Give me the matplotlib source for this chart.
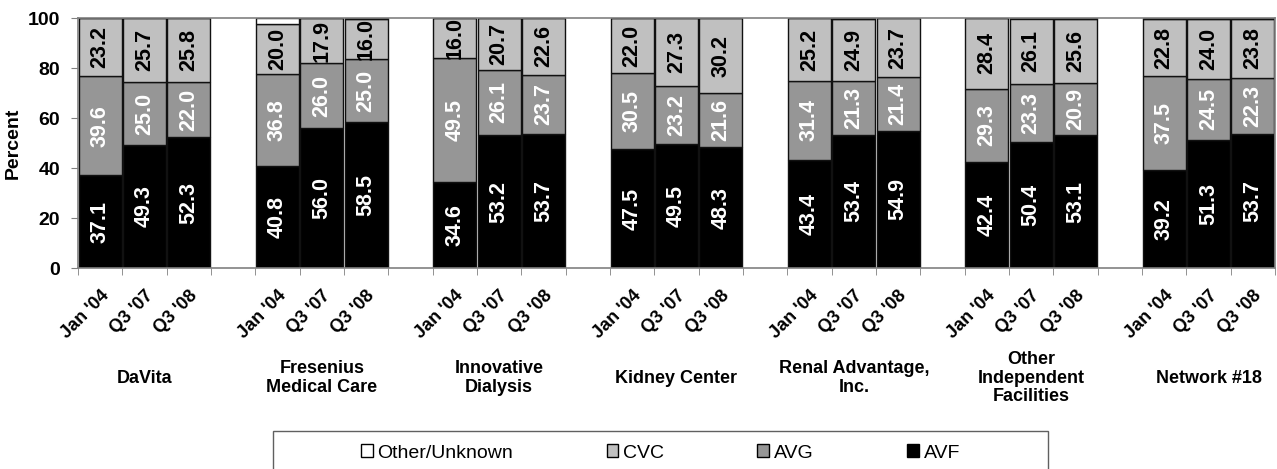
import numpy as np
import matplotlib.pyplot as plt
import matplotlib.patches as mpatches

plt.rcParams["font.family"] = ["Liberation Sans", "DejaVu Sans"]

groups = ["DaVita", "Fresenius\nMedical Care", "Innovative\nDialysis", "Kidney Center",
          "Renal Advantage,\nInc.", "Other\nIndependent\nFacilities", "Network #18"]
periods = ["Jan '04", "Q3 '07", "Q3 '08"]

# values per group, per period (Jan '04, Q3 '07, Q3 '08)
avf = [37.1, 49.3, 52.3,  40.8, 56.0, 58.5,  34.6, 53.2, 53.7,  47.5, 49.5, 48.3,
       43.4, 53.4, 54.9,  42.4, 50.4, 53.1,  39.2, 51.3, 53.7]
avg = [39.6, 25.0, 22.0,  36.8, 26.0, 25.0,  49.5, 26.1, 23.7,  30.5, 23.2, 21.6,
       31.4, 21.3, 21.4,  29.3, 23.3, 20.9,  37.5, 24.5, 22.3]
cvc = [23.2, 25.7, 25.8,  20.0, 17.9, 16.0,  16.0, 20.7, 22.6,  22.0, 27.3, 30.2,
       25.2, 24.9, 23.7,  28.4, 26.1, 25.6,  22.8, 24.0, 23.8]
other = [0.1, 0.0, 0.0,  2.4, 0.1, 0.5,  0.0, 0.0, 0.0,  0.0, 0.0, 0.0,
         0.0, 0.4, 0.0,  0.0, 0.2, 0.4,  0.5, 0.2, 0.2]

c_avf, c_avg, c_cvc, c_oth = "#000000", "#969696", "#c0c0c0", "#ffffff"
edge = "#111111"

fig = plt.figure(figsize=(12.77, 4.69), dpi=100)
ax = fig.add_axes([78 / 1277, 201 / 469, 1197 / 1277, 250 / 469])

x = np.array([g * 4 + j + 0.5 for g in range(len(groups)) for j in range(3)])
avf = np.array(avf); avg = np.array(avg); cvc = np.array(cvc); other = np.array(other)

w = 0.97
ax.bar(x, avf, w, color=c_avf, edgecolor=edge, linewidth=1)
ax.bar(x, avg, w, bottom=avf, color=c_avg, edgecolor=edge, linewidth=1)
ax.bar(x, cvc, w, bottom=avf + avg, color=c_cvc, edgecolor=edge, linewidth=1)
ax.bar(x, other, w, bottom=avf + avg + cvc, color=c_oth, edgecolor=edge, linewidth=1)

lab_kw = dict(rotation=90, ha="center", va="center", fontsize=15.5, fontweight="bold")
for i in range(len(x)):
    ax.text(x[i], avf[i] / 2, "%.1f" % avf[i], color="white", **lab_kw)
    ax.text(x[i], avf[i] + avg[i] / 2, "%.1f" % avg[i], color="white", **lab_kw)
    ax.text(x[i], avf[i] + avg[i] + cvc[i] / 2, "%.1f" % cvc[i], color="black", **lab_kw)

ax.set_xlim(0, 27)
ax.set_ylim(0, 100)
ax.set_yticks(range(0, 101, 20))
ax.tick_params(axis="y", length=5, color="#808080", pad=8, labelsize=14)
for t in ax.get_yticklabels():
    t.set_fontweight("bold")

ax.set_xticks(x)
ax.set_xticklabels(periods * len(groups), rotation=45, ha="right",
                   rotation_mode="anchor", fontsize=13, fontweight="bold")
ax.tick_params(axis="x", which="major", length=0, pad=14)
ax.set_xticks(np.arange(0, 28), minor=True)
ax.tick_params(axis="x", which="minor", length=5, color="#808080")

for s in ax.spines.values():
    s.set_color("#808080")
    s.set_linewidth(1.2)

ax.set_ylabel("Percent", fontsize=14, fontweight="bold", labelpad=4)

for g, name in enumerate(groups):
    ax.annotate(name, xy=(g * 4 + 1.5, -0.44), xycoords=("data", "axes fraction"),
                ha="center", va="center", fontsize=13, fontweight="bold",
                linespacing=1.1, annotation_clip=False)

# legend
fig.patches.append(mpatches.Rectangle((273 / 1277, -0.05), 775 / 1277, (469 - 431) / 469 + 0.05,
                                      transform=fig.transFigure, fill=False,
                                      edgecolor="#606060", linewidth=1))
handles = [mpatches.Patch(facecolor=c, edgecolor="black", linewidth=1)
           for c in (c_oth, c_cvc, c_avg, c_avf)]
fig.legend(handles, ["Other/Unknown", "CVC", "AVG", "AVF"], ncol=4,
           loc="center left", bbox_to_anchor=(361 / 1277, (469 - 453) / 469),
           frameon=False, fontsize=14, handlelength=0.6, handleheight=0.6,
           handletextpad=0.25, columnspacing=4.8, borderpad=0, borderaxespad=0)

fig.savefig("out.png", dpi=100)
